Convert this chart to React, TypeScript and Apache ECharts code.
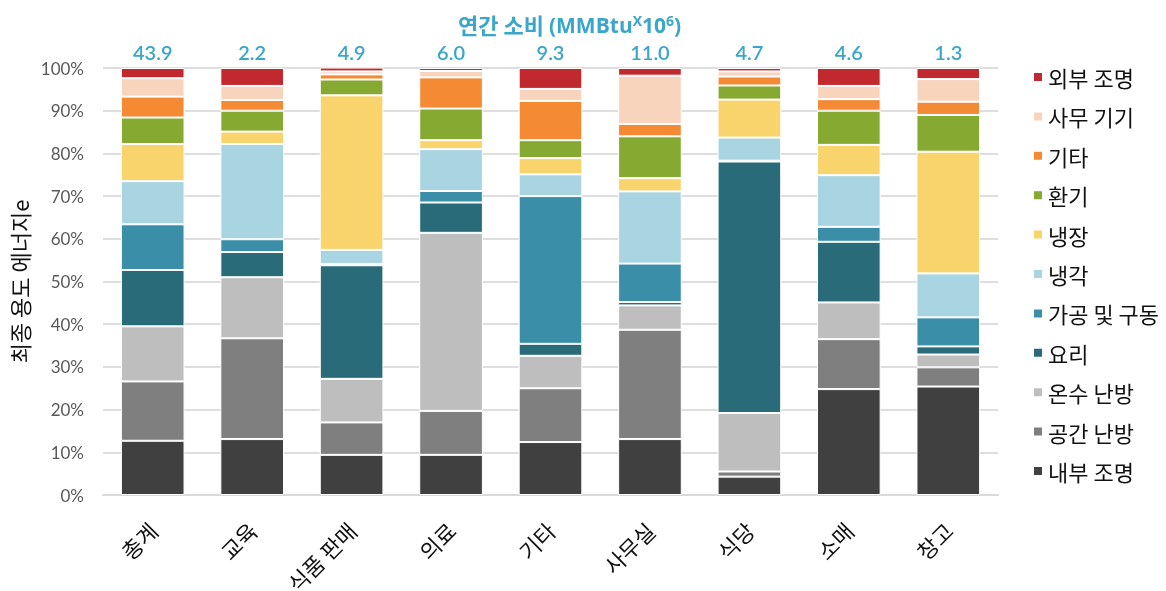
import React, { useEffect, useRef } from "react";
import * as echarts from "echarts";

// Building types along the x axis
const buildingTypes = ["총계", "교육", "식품 판매", "의료", "기타", "사무실", "식당", "소매", "창고"];

// Annual consumption per building type (MMBtu x 10^6), printed above each bar
const annualTotals = [43.9, 2.2, 4.9, 6.0, 9.3, 11.0, 4.7, 4.6, 1.3];

// End-use shares (%) per building type, bottom of the stack first
const interiorLighting = [12.7, 13.1, 9.4, 9.4, 12.4, 13.1, 4.3, 24.8, 25.4];
const spaceHeating = [13.9, 23.6, 7.6, 10.3, 12.6, 25.6, 1.2, 11.7, 4.5];
const waterHeating = [12.9, 14.3, 10.2, 41.7, 7.6, 5.7, 13.7, 8.6, 3.0];
const cooking = [13.2, 5.9, 26.6, 7.1, 2.8, 0.8, 58.9, 14.2, 1.9];
const processDrive = [10.7, 3.0, 0.3, 2.7, 34.6, 9.0, 0.2, 3.5, 6.8];
const cooling = [10.1, 22.3, 3.3, 9.8, 5.1, 16.9, 5.4, 12.1, 10.3];
const refrigeration = [8.7, 2.9, 36.2, 2.1, 3.8, 3.1, 8.9, 7.1, 28.5];
const ventilation = [6.2, 4.9, 3.7, 7.4, 4.2, 9.8, 3.3, 8.0, 8.6];
const otherUse = [4.9, 2.5, 1.2, 7.3, 9.2, 2.9, 2.1, 2.7, 3.1];
const officeEquipment = [4.3, 3.3, 0.7, 1.5, 2.8, 11.3, 1.2, 3.1, 5.3];
const exteriorLighting = [2.4, 4.2, 0.9, 0.7, 4.9, 1.8, 0.8, 4.2, 2.6];

// Y axis tick range (percent)
const yTicks = { min: 0, max: 100, interval: 10 };

const endUses = [
  { name: "내부 조명", data: interiorLighting, color: "#404040" },
  { name: "공간 난방", data: spaceHeating, color: "#7f7f7f" },
  { name: "온수 난방", data: waterHeating, color: "#bebebe" },
  { name: "요리", data: cooking, color: "#2a6b79" },
  { name: "가공 및 구동", data: processDrive, color: "#3a8ea8" },
  { name: "냉각", data: cooling, color: "#a8d5e1" },
  { name: "냉장", data: refrigeration, color: "#f9d36c" },
  { name: "환기", data: ventilation, color: "#86a932" },
  { name: "기타", data: otherUse, color: "#f48a33" },
  { name: "사무 기기", data: officeEquipment, color: "#f9d4bd" },
  { name: "외부 조명", data: exteriorLighting, color: "#c1292e" },
];

const FONT = "Lato, 'Noto Sans CJK KR', sans-serif";
const KR_FONT = "'Noto Sans CJK KR', 'Noto Sans', sans-serif";
const ACCENT = "#3aa6c9";

export default function App() {
  const ref = useRef<HTMLDivElement>(null);

  useEffect(() => {
    if (!ref.current) return;
    const chart = echarts.init(ref.current, null, { renderer: "svg" });

    const series = endUses.map((u, i) => {
      const isTop = i === endUses.length - 1;
      return {
        name: u.name,
        type: "bar",
        stack: "share",
        barWidth: "64%",
        data: u.data,
        itemStyle: { color: u.color, borderColor: "#ffffff", borderWidth: 1 },
        label: isTop
          ? {
              show: true,
              position: "top",
              distance: 6,
              formatter: (p: any) => annualTotals[p.dataIndex].toFixed(1),
              color: ACCENT,
              fontSize: 20,
              fontWeight: 600,
              fontFamily: FONT,
            }
          : { show: false },
        emphasis: { disabled: true },
      };
    });

    chart.setOption({
      animation: false,
      title: {
        text: "{kr|연간 소비 }{en|(MMBtu}{sup|X}{en|10}{sup|6}{en|)}",
        left: 453,
        top: 8,
        textStyle: {
          rich: {
            kr: { fontFamily: KR_FONT, fontSize: 22, fontWeight: "bold", color: ACCENT },
            en: { fontFamily: "'Open Sans', sans-serif", fontSize: 21, fontWeight: "bold", color: ACCENT, verticalAlign: "bottom" },
            sup: { fontFamily: "'Open Sans', sans-serif", fontSize: 14, fontWeight: "bold", color: ACCENT, verticalAlign: "top", padding: [0, 0, 8, 0] },
          },
        },
      },
      legend: {
        orient: "vertical",
        left: 1027,
        top: 61,
        itemWidth: 10,
        itemHeight: 10,
        itemGap: 17.4,
        icon: "rect",
        data: endUses.map((u) => u.name).reverse(),
        textStyle: { fontFamily: KR_FONT, fontSize: 22, color: "#111111" },
        selectedMode: false,
      },
      // Fixed plot box; rotated category labels may run past the bottom edge.
      grid: {
        left: 103,
        right: 168,
        top: 68,
        bottom: 96,
        containLabel: false,
        outerBoundsMode: "none",
      },
      xAxis: {
        type: "category",
        data: buildingTypes,
        axisLine: { show: true, lineStyle: { color: "#d9d9d9", width: 2 } },
        axisTick: { show: false },
        axisLabel: {
          rotate: 45,
          margin: 31,
          fontFamily: KR_FONT,
          fontSize: 22,
          color: "#111111",
          interval: 0,
        },
      },
      yAxis: {
        type: "value",
        min: yTicks.min,
        max: yTicks.max,
        interval: yTicks.interval,
        name: "최종 용도 에너지e",
        nameLocation: "middle",
        nameGap: 61,
        nameRotate: 90,
        nameTextStyle: { fontFamily: KR_FONT, fontSize: 22, color: "#111111" },
        axisLine: { show: false },
        axisTick: { show: false },
        axisLabel: {
          formatter: "{value}%",
          fontFamily: FONT,
          fontSize: 17,
          color: "#595959",
          margin: 19,
        },
        splitLine: { lineStyle: { color: "#dedede", width: 2 } },
      },
      series,
    });

    return () => chart.dispose();
  }, []);

  return (
    <div
      ref={ref}
      style={{ position: "fixed", left: 0, top: 0, width: 1166, height: 591 }}
    />
  );
}
